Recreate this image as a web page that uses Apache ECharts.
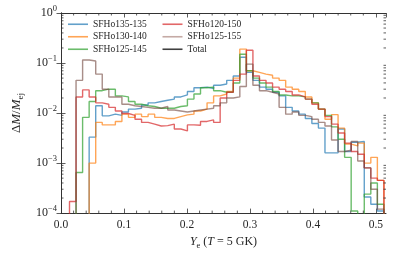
<!DOCTYPE html>
<html><head><meta charset="utf-8">
<script src="https://cdn.jsdelivr.net/npm/echarts@6/dist/echarts.min.js"></script>
<style>html,body{margin:0;padding:0;background:#fff}#c{width:407px;height:255px}</style>
</head><body><div id="c"></div>
<script>
// ---- data ----
const BIN_START = 0.0135;
const BIN_WIDTH = 0.0104;
const X_MIN = 0, X_MAX = 0.516, X_INTERVAL = 0.1;
const Y_MIN = 1e-4, Y_MAX = 1;
const X_MINOR = [0.02,0.04,0.06,0.08,0.12,0.14,0.16,0.18,0.22,0.24,0.26,0.28,0.32,0.34,0.36,0.38,0.42,0.44,0.46,0.48];
const Y_MINOR = [];
for (let d = -4; d < 0; d++) for (let m = 2; m <= 9; m++) Y_MINOR.push(m * Math.pow(10, d));

const NAMES = ['SFHo135-135','SFHo130-140','SFHo125-145','SFHo120-150','SFHo125-155','Total'];

const SFHo135_135 = [0,0,0,0.0033,0.014,0.0088,0.0095,0.009,0.0105,0.012,0.0125,0.0145,0.016,0.017,0.018,0.019,0.021,0.023,0.027,0.032,0.033,0.031,0.036,0.038,0.045,0.055,0.13,0.065,0.045,0.033,0.03,0.026,0.022,0.013,0.011,0.0095,0.0078,0.0062,0.0050,0.0016,0.0016,0.0048,0.0017,0.0026,0.0027,0.00021,0.00015,0.00011];
const SFHo130_140 = [0,0,0,0.001,0.0065,0.0058,0.0058,0.0068,0.0095,0.0082,0.0095,0.0085,0.0095,0.0082,0.0078,0.0078,0.0085,0.0092,0.0095,0.011,0.012,0.016,0.022,0.024,0.027,0.05,0.19,0.07,0.065,0.06,0.057,0.05,0.045,0.033,0.03,0.027,0.021,0.016,0.012,0.0075,0.0093,0.005,0.0024,0.0022,0.0025,0.001,0.0013,0.00045];
const SFHo125_145 = [0,0.00065,0.0082,0.017,0.028,0.030,0.030,0.022,0.021,0.017,0.015,0.014,0.0135,0.0125,0.0125,0.0125,0.0135,0.014,0.019,0.024,0.032,0.033,0.028,0.026,0.026,0.04,0.15,0.07,0.05,0.04,0.033,0.027,0.023,0.022,0.022,0.021,0.019,0.016,0.012,0.009,0.0053,0.003,0.0013,0.00011,0,0.00024,0.0004,0.00015];
const SFHo120_150 = [0.00017,0.021,0.029,0.021,0.016,0.015,0.013,0.011,0.0098,0.009,0.0075,0.0065,0.006,0.0055,0.0056,0.006,0.0048,0.0044,0.0058,0.0057,0.0068,0.0073,0.0065,0.02,0.026,0.045,0.06,0.18,0.055,0.045,0.04,0.033,0.03,0.027,0.023,0.021,0.019,0.015,0.012,0.0085,0.006,0.004,0.0025,0.0017,0.0015,0.0008,0.0005,0.00045];
const SFHo125_155 = [0,0.045,0.115,0.11,0.06,0.03,0.021,0.021,0.015,0.014,0.0135,0.013,0.0125,0.0125,0.0135,0.0115,0.011,0.0105,0.011,0.0115,0.012,0.0125,0.014,0.016,0.02,0.021,0.034,0.095,0.036,0.028,0.026,0.024,0.013,0.0095,0.0105,0.009,0.0085,0.0075,0.0065,0.0055,0.0029,0.0017,0.0018,0.0027,0.0011,0.0008,0.0003,0.00012];
const TOTAL = [0,0.045,0.115,0.11,0.06,0.03,0.021,0.021,0.015,0.014,0.0135,0.013,0.0125,0.0125,0.0135,0.0115,0.011,0.0105,0.011,0.0115,0.012,0.0125,0.014,0.016,0.02,0.021,0.034,0.095,0.036,0.028,0.026,0.024,0.013,0.0095,0.0105,0.009,0.0085,0.0075,0.0065,0.0055,0.0029,0.0017,0.0018,0.0027,0.0011,0.0008,0.0003,0.00012];

const SERIES_VALUES = [SFHo135_135, SFHo130_140, SFHo125_145, SFHo120_150, SFHo125_155, TOTAL];
const COLORS = ['rgba(31,119,180,0.7)','rgba(255,127,14,0.7)','rgba(44,160,44,0.7)','rgba(214,39,40,0.7)','rgba(140,86,75,0.55)','rgba(0,0,0,0.12)'];
const LEGEND_COLORS = ['rgba(31,119,180,0.7)','rgba(255,127,14,0.7)','rgba(44,160,44,0.7)','rgba(214,39,40,0.7)','rgba(140,86,75,0.5)','rgba(0,0,0,0.75)'];

// ---- chart ----
const FONT = '"Liberation Serif","DejaVu Serif",serif';
const TXT = '#262626';
const FRAME = '#333';
const FLOOR = 1e-7;
function edge(k){ return BIN_START + BIN_WIDTH * k; }
function steps(vals){
  const pts = [[edge(0), FLOOR]];
  vals.forEach((v, i) => { const y = v > 0 ? v : FLOOR; pts.push([edge(i), y], [edge(i + 1), y]); });
  pts.push([edge(vals.length), FLOOR]);
  return pts;
}
const chart = echarts.init(document.getElementById('c'), null, {renderer: 'canvas'});

const lineSeries = SERIES_VALUES.map((vals, i) => ({
  name: NAMES[i], type: 'line', data: steps(vals), showSymbol: false, symbol: 'none',
  color: COLORS[i], lineStyle: {width: 1.4, color: COLORS[i]}, clip: true, z: 2 + i, silent: true
}));

function minorX(params, api){
  const x = api.value(0);
  const b = api.coord([x, Y_MIN]), t = api.coord([x, Y_MAX]);
  return {type: 'group', children: [
    {type: 'line', shape: {x1: b[0], y1: b[1], x2: b[0], y2: b[1] - 2.5}, style: {stroke: FRAME, lineWidth: 0.8}},
    {type: 'line', shape: {x1: t[0], y1: t[1], x2: t[0], y2: t[1] + 2.5}, style: {stroke: FRAME, lineWidth: 0.8}}]};
}
function minorY(params, api){
  const y = api.value(1);
  const l = api.coord([X_MIN, y]), r = api.coord([X_MAX, y]);
  return {type: 'group', children: [
    {type: 'line', shape: {x1: l[0], y1: l[1], x2: l[0] + 2.5, y2: l[1]}, style: {stroke: FRAME, lineWidth: 0.8}},
    {type: 'line', shape: {x1: r[0], y1: r[1], x2: r[0] - 2.5, y2: r[1]}, style: {stroke: FRAME, lineWidth: 0.8}}]};
}

const axisCommon = {
  axisLine: {show: true, lineStyle: {color: FRAME, width: 1}},
  axisTick: {show: true, inside: true, length: 4.5, lineStyle: {color: FRAME, width: 0.8}},
  splitLine: {show: false}
};

function legendBlock(names, left){
  return {
    data: names.map(n => ({name: n, itemStyle: {color: LEGEND_COLORS[NAMES.indexOf(n)]}})),
    orient: 'vertical', left: left, top: 18, padding: 0, itemGap: 0,
    itemWidth: 20, itemHeight: 1.6, icon: 'rect',
    textStyle: {fontFamily: FONT, fontSize: 9.5, color: TXT, lineHeight: 12.5}
  };
}

chart.setOption({
  animation: false,
  backgroundColor: '#fff',
  grid: {left: 61, right: 21, top: 13, bottom: 39},
  legend: [legendBlock(NAMES.slice(0, 3), 68), legendBlock(NAMES.slice(3), 162.5)],
  xAxis: [
    Object.assign({
      type: 'value', position: 'bottom', min: X_MIN, max: X_MAX, interval: X_INTERVAL,
      name: '{i|Y}{sub|e}{n| (}{i|T}{n| = 5 GK)}', nameLocation: 'middle', nameGap: 17,
      nameTextStyle: {fontFamily: FONT, color: TXT, rich: {
        i: {fontFamily: FONT, fontStyle: 'italic', fontSize: 12, lineHeight: 16, color: TXT},
        n: {fontFamily: FONT, fontSize: 12, lineHeight: 16, color: TXT},
        sub: {fontFamily: FONT, fontSize: 8.5, lineHeight: 10, verticalAlign: 'bottom', color: TXT}}},
      axisLabel: {show: true, margin: 6, fontFamily: FONT, fontSize: 11.5, color: TXT, showMaxLabel: false,
        formatter: v => v.toFixed(1)}
    }, axisCommon),
    Object.assign({
      type: 'value', position: 'top', min: X_MIN, max: X_MAX, interval: X_INTERVAL,
      axisLabel: {show: false}
    }, axisCommon)
  ],
  yAxis: [
    Object.assign({
      type: 'log', logBase: 10, position: 'left', min: Y_MIN, max: Y_MAX, interval: 1,
      name: '{n|Δ}{i|M}{n|/}{i|M}{sub|ej}', nameLocation: 'middle', nameGap: 31, nameRotate: 90,
      nameTextStyle: {fontFamily: FONT, color: TXT, rich: {
        i: {fontFamily: FONT, fontStyle: 'italic', fontSize: 13, lineHeight: 16, color: TXT},
        n: {fontFamily: FONT, fontSize: 13, lineHeight: 16, color: TXT},
        sub: {fontFamily: FONT, fontSize: 9, lineHeight: 10, verticalAlign: 'bottom', color: TXT}}},
      axisLabel: {show: true, margin: 4, fontFamily: FONT, color: TXT,
        formatter: v => { const e = Math.round(Math.log10(v)); return '{b|10}{s|' + (e < 0 ? '\u2212' + (-e) : e) + '}'; },
        rich: {
          b: {fontFamily: FONT, fontSize: 12, lineHeight: 17, color: TXT},
          s: {fontFamily: FONT, fontSize: 8.5, lineHeight: 9, verticalAlign: 'top', color: TXT}}}
    }, axisCommon),
    Object.assign({
      type: 'log', logBase: 10, position: 'right', min: Y_MIN, max: Y_MAX, interval: 1,
      axisLabel: {show: false}
    }, axisCommon)
  ],
  series: lineSeries.concat([
    {type: 'custom', renderItem: minorX, data: X_MINOR.map(x => [x, Y_MIN]), silent: true, clip: false, z: 10},
    {type: 'custom', renderItem: minorY, data: Y_MINOR.map(y => [X_MIN, y]), silent: true, clip: false, z: 10}
  ])
});
</script></body></html>
